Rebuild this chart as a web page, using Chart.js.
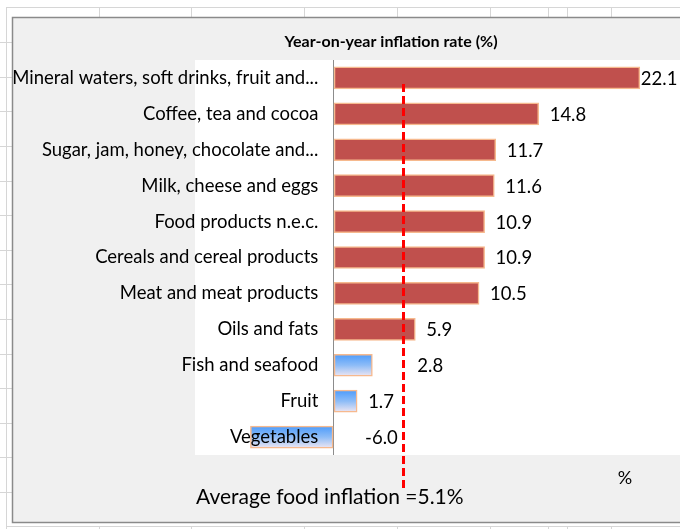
<!DOCTYPE html>
<html><head><meta charset="utf-8">
<script src="https://cdn.jsdelivr.net/npm/chart.js@4"></script>
<style>html,body{margin:0;padding:0;background:#fff;overflow:hidden}canvas{display:block}</style>
</head><body>
<canvas id="c" width="680" height="529"></canvas>
<script>
// ---- data ----
const categories = [
  'Mineral waters, soft drinks, fruit and...',
  'Coffee, tea and cocoa',
  'Sugar, jam, honey, chocolate and...',
  'Milk, cheese and eggs',
  'Food products n.e.c.',
  'Cereals and cereal products',
  'Meat and meat products',
  'Oils and fats',
  'Fish and seafood',
  'Fruit',
  'Vegetables'
];
const values = [22.1, 14.8, 11.7, 11.6, 10.9, 10.9, 10.5, 5.9, 2.8, 1.7, -6.0];
const averageInflation = 5.1;
const chartTitle = 'Year-on-year inflation rate (%)';
const axisUnit = '%';
const averageLabel = 'Average food inflation =' + averageInflation.toFixed(1) + '%';

// ---- styles ----
const FONT = 'Lato, "Open Sans", sans-serif';
const RED = '#C0504D';
const EDGE = '#F6B98E';

function barFill(ctx) {
  const v = ctx.raw;
  if (v >= averageInflation) return RED;
  const chart = ctx.chart;
  if (!chart.chartArea || !chart.scales.y) return '#6aa8f5';
  const yc = chart.scales.y.getPixelForValue(ctx.dataIndex);
  const g = chart.ctx.createLinearGradient(0, yc - 11, 0, yc + 11);
  g.addColorStop(0, '#4C9BFB');
  g.addColorStop(0.5, '#8DBCF7');
  g.addColorStop(1, '#EEE6F2');
  return g;
}

const backgroundPlugin = {
  id: 'sheetBackground',
  beforeDraw(chart) {
    const c = chart.ctx, a = chart.chartArea;
    c.save();
    c.fillStyle = '#ffffff';
    c.fillRect(0, 0, chart.width, chart.height);
    c.strokeStyle = '#d6d6d6';
    c.lineWidth = 1;
    c.beginPath();
    c.moveTo(6, 7.5); c.lineTo(chart.width, 7.5);
    c.moveTo(6.5, 7); c.lineTo(6.5, chart.height);
    c.moveTo(6, 526.5); c.lineTo(chart.width, 526.5);
    [99, 191, 304, 397, 490, 548, 567, 611].forEach(x => {
      c.moveTo(x + 0.5, 7); c.lineTo(x + 0.5, 17);
      c.moveTo(x + 0.5, 526); c.lineTo(x + 0.5, chart.height);
    });
    for (let k = 1; k <= 14; k++) {
      const y = Math.round(7.5 + k * 34.6) + 0.5;
      c.moveTo(0, y); c.lineTo(12, y);
    }
    c.stroke();
    c.fillStyle = '#f0f0f0';
    c.fillRect(12, 17, chart.width, 505);
    c.strokeStyle = '#8a8a8a';
    c.lineWidth = 1.5;
    c.beginPath();
    c.moveTo(chart.width + 2, 17.5); c.lineTo(12.5, 17.5); c.lineTo(12.5, 522.5); c.lineTo(chart.width + 2, 522.5);
    c.stroke();
    c.fillStyle = '#ffffff';
    c.fillRect(a.left, a.top, a.right - a.left, a.bottom - a.top);
    c.restore();
  }
};

const annotationPlugin = {
  id: 'averageAndTexts',
  afterDatasetsDraw(chart) {
    const c = chart.ctx, xs = chart.scales.x;
    const x = Math.round(xs.getPixelForValue(averageInflation)) - 0.5;
    c.save();
    c.strokeStyle = '#FF0000';
    c.lineWidth = 3;
    c.setLineDash([8, 4]);
    c.beginPath();
    c.moveTo(x, 84); c.lineTo(x, 488);
    c.stroke();
    c.restore();
  },
  afterDraw(chart) {
    const c = chart.ctx;
    c.save();
    c.fillStyle = '#000';
    c.textBaseline = 'middle';
    c.textAlign = 'center';
    c.font = 'bold 16px ' + FONT;
    c.fillText(chartTitle, 391, 42);
    c.font = '18px ' + FONT;
    c.fillText(axisUnit, 625, 478);
    c.textAlign = 'left';
    c.font = '21px ' + FONT;
    c.fillText(averageLabel, 196, 497);
    c.restore();
  }
};

const valueLabelPlugin = {
  id: 'valueLabels',
  afterDatasetsDraw(chart, args, opts) {
    const c = chart.ctx;
    const meta = chart.getDatasetMeta(0);
    c.save();
    c.font = '18.5px ' + FONT;
    c.fillStyle = '#000';
    c.textBaseline = 'middle';
    c.textAlign = 'left';
    meta.data.forEach((bar, i) => {
      const v = values[i];
      const txt = v.toFixed(1);
      const w = c.measureText(txt).width;
      let x;
      if (v < 0) {
        x = bar.base + opts.negativeOffset;
      } else {
        x = bar.x + opts.gap + (opts.nudge[i] || 0);
        if (x + w > opts.rightLimit) x = bar.x + 1;
      }
      c.fillText(txt, x, bar.y + 1);
    });
    c.restore();
  }
};

new Chart(document.getElementById('c'), {
  type: 'bar',
  data: {
    labels: categories,
    datasets: [{
      data: values,
      backgroundColor: barFill,
      borderColor: EDGE,
      borderWidth: 1.5,
      borderSkipped: false,
      barThickness: 22
    }]
  },
  options: {
    indexAxis: 'y',
    responsive: false,
    animation: false,
    devicePixelRatio: 1,
    layout: { padding: { left: 195, top: 60, right: 0, bottom: 74 } },
    plugins: {
      legend: { display: false },
      title: { display: false },
      tooltip: { enabled: false },
      valueLabels: { gap: 11, rightLimit: 679, negativeOffset: 32, nudge: { 8: 34 } }
    },
    scales: {
      x: {
        type: 'linear', min: -10, max: 25,
        ticks: { display: false, stepSize: 5 },
        grid: {
          drawTicks: false,
          color: (ctx) => (ctx.tick && ctx.tick.value === 0) ? '#8c8c8c' : 'rgba(0,0,0,0)',
          lineWidth: 1
        },
        border: { display: false }
      },
      y: {
        position: { x: -1.1 },
        grid: { display: false, drawTicks: false },
        border: { display: false },
        ticks: {
          z: 1,
          autoSkip: false,
          padding: 0,
          color: '#000',
          font: { family: FONT, size: 18.5 }
        }
      }
    }
  },
  plugins: [backgroundPlugin, valueLabelPlugin, annotationPlugin]
});
</script>
</body></html>
